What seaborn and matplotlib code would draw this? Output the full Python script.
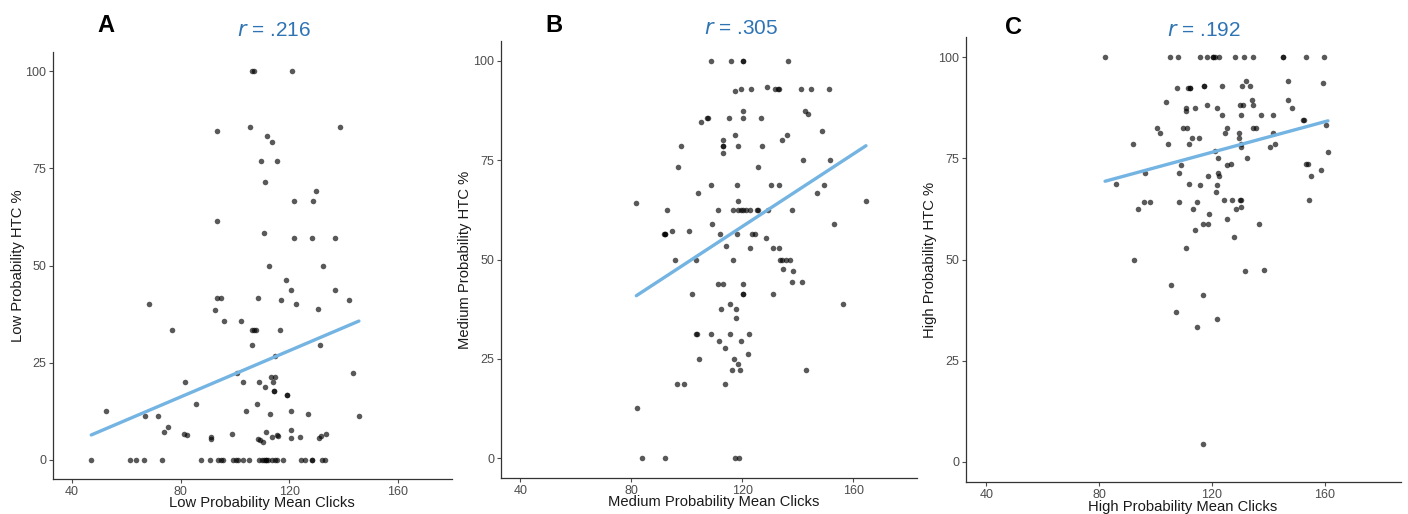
import numpy as np
import pandas as pd
import matplotlib
matplotlib.use("Agg")
import matplotlib.pyplot as plt
import seaborn as sns

# ---------------- data ----------------
low_x = [106.4, 107.1, 121.0,
         105.6, 93.3, 138.6, 111.7, 113.7,
         109.6, 115.5, 111.0, 130.0, 121.8, 128.7,
         93.5, 110.7, 121.8, 128.4, 137.0,
         112.4, 132.4, 118.8, 120.6, 136.9, 142.2,
         93.3, 94.8, 108.5, 116.9, 122.7, 68.5,
         92.8, 130.6, 96.0, 102.4,
         106.3, 107.0, 107.8, 116.6, 76.9,
         106.3, 131.5, 114.9, 100.8, 143.6,
         81.8, 103.1, 109.0, 114.0, 113.2, 114.9,
         111.0, 114.5, 114.5, 119.1, 119.1,
         52.4, 66.8, 71.5, 85.5, 108.0, 104.1, 112.9, 120.7, 127.1, 145.7,
         75.3, 74.0, 81.3, 82.3, 91.3, 91.3, 98.9,
         108.5, 109.3, 110.5, 111.3, 113.6, 115.6, 115.8, 120.7, 120.6, 124.1, 130.9, 131.9, 133.6,
         47.1, 61.5, 63.4, 66.5, 73.3, 87.7, 90.8, 93.9, 94.8, 95.7, 99.3, 100.3, 101.3, 103.1,
         105.2, 108.9, 109.9, 110.7, 111.4, 111.4, 112.3, 113.6, 114.8, 115.7, 117.6, 124.3,
         125.9, 128.3, 128.3, 132.0, 133.2]
low_y = [100, 100, 100,
         85.7, 84.6, 85.7, 83.3, 81.8,
         76.9, 76.9, 71.4, 69.2, 66.7, 66.7,
         61.5, 58.3, 57.1, 57.1, 57.1,
         50, 50, 46.2, 43.8, 43.8, 41.2,
         41.7, 41.7, 41.7, 41.2, 40, 40,
         38.5, 38.9, 35.7, 35.7,
         33.3, 33.3, 33.3, 33.3, 33.3,
         29.4, 29.4, 26.8, 22.3, 22.3,
         20, 20, 20, 20, 21.4, 21.4,
         18.7, 17.7, 17.7, 16.6, 16.6,
         12.5, 11.2, 11.2, 14.2, 14.2, 12.5, 11.8, 12.5, 11.8, 11.2,
         8.3, 7.1, 6.7, 6.3, 5.8, 5.3, 6.7,
         5.3, 5.0, 4.5, 7.1, 5.8, 6.4, 6.1, 7.6, 5.6, 5.8, 5.6, 6.0, 6.7,
         0, 0, 0, 0, 0, 0, 0, 0, 0, 0, 0, 0, 0, 0,
         0, 0, 0, 0, 0, 0, 0, 0, 0, 0, 0, 0,
         0, 0, 0, 0, 0]

med_x = [108.9, 116.1, 120.3, 120.3, 136.4,
         119.5, 123.3, 128.8, 131.7, 132.7, 133.4, 141.1, 144.9, 151.3, 117.2,
         120.3, 142.6, 143.6,
         107.1, 107.8, 115.1, 120.3, 126.9,
         105.1, 148.8, 117.4, 136.3, 134.4, 112.9,
         113.1, 113.1, 118.6, 127.0, 97.9, 113.0,
         97.0, 125.5, 141.8, 151.6,
         108.7, 118.0, 130.5, 133.2, 149.6,
         104.1, 147.1, 81.8, 164.6, 118.4,
         92.8, 111.4, 116.5, 118.5, 119.5, 120.3, 121.2, 122.8, 125.2, 125.6, 129.2, 138.1,
         109.1, 153.1, 94.7, 100.7,
         91.9, 92.3, 92.3, 111.9, 118.2, 123.4, 124.6,
         128.6, 114.3, 122.8, 131.2, 133.3,
         95.7, 103.3, 116.6, 133.6, 134.5, 135.7, 137.2,
         134.7, 138.2, 137.8, 141.4, 111.2, 113.0, 120.3,
         101.8, 120.4, 120.4, 131.0, 156.3, 115.5,
         112.4, 117.6, 117.9,
         103.3, 103.7, 108.7, 115.4, 122.5,
         111.5, 119.6, 113.8, 121.9, 104.5, 117.0, 118.6,
         116.2, 119.2, 142.9, 96.5, 99.1, 113.6,
         82.1, 83.9, 92.3, 117.4, 118.8]
med_y = [100, 100, 100, 100, 100,
         92.9, 92.9, 93.3, 92.9, 92.9, 92.9, 92.9, 92.9, 92.9, 92.4,
         87.5, 87.5, 86.7,
         85.7, 85.7, 85.7, 85.7, 85.7,
         84.6, 82.3, 81.3, 81.3, 80.0, 80.0,
         78.6, 78.6, 78.6, 78.6, 78.6, 76.9,
         73.3, 73.3, 75.0, 75.0,
         68.8, 68.8, 68.8, 68.8, 68.8,
         66.7, 66.7, 64.3, 64.7, 64.7,
         62.5, 62.5, 62.5, 62.5, 62.5, 62.5, 62.5, 62.5, 62.5, 62.5, 62.5, 62.5,
         58.9, 58.9, 57.1, 57.1,
         56.3, 56.3, 56.3, 56.3, 56.3, 56.3, 56.3,
         55.5, 53.4, 52.9, 52.9, 52.9,
         50, 50, 50, 50, 50, 50, 50,
         47.5, 47.1, 44.4, 44.4, 43.8, 43.8, 43.8,
         41.2, 41.2, 41.2, 41.2, 38.9, 38.9,
         37.5, 37.5, 35.3,
         31.3, 31.3, 31.3, 31.3, 31.3,
         29.4, 29.4, 27.8, 26.3, 25.0, 25.0, 23.6,
         22.2, 22.2, 22.2, 18.7, 18.7, 18.7,
         12.5, 0, 0, 0, 0]

high_x = [82.1, 105.0, 108.1, 115.8, 118.3, 120.5, 120.5, 121.0, 122.4, 128.3, 131.4, 134.4, 145.0, 145.0, 153.5, 159.6,
          131.9, 146.9, 159.4, 107.5, 111.4, 112.2, 112.2, 117.3, 117.3, 123.7, 130.6, 133.5,
          103.6, 134.2, 146.9, 118.2, 130.1, 131.1, 134.6,
          110.7, 110.7, 114.1, 121.7, 148.2,
          123.5, 130.3, 137.2, 141.8, 152.2, 152.6,
          100.6, 109.7, 111.3, 125.3, 134.6, 135.6, 160.5,
          101.7, 124.5, 129.4, 141.8,
          113.0, 115.3, 129.4,
          91.9, 104.5, 112.0, 130.4, 130.4, 142.3, 140.4,
          161.1, 121.1, 122.0, 132.4, 108.9, 125.4, 126.7, 153.3, 153.9,
          96.2, 108.2, 122.0, 122.6, 118.7, 155.2, 158.6,
          85.8, 112.0, 115.9, 121.7, 121.5,
          95.9, 98.1, 108.4, 114.6, 124.1, 127.2, 129.9, 130.4, 154.3,
          93.6, 113.3, 128.5, 130.3, 118.9, 125.4,
          116.9, 118.7, 136.8, 113.9, 127.8, 110.7, 92.5,
          131.7, 138.6, 105.3, 116.8, 107.4, 121.7, 114.6, 116.8]
high_y = [100, 100, 100, 100, 100, 100, 100, 100, 100, 100, 100, 100, 100, 100, 100, 100,
          94.1, 94.1, 93.7, 92.3, 92.3, 92.3, 92.3, 92.8, 92.8, 92.8, 92.8, 92.8,
          88.9, 89.5, 89.5, 88.2, 88.2, 88.2, 88.2,
          87.5, 86.6, 87.5, 87.5, 87.5,
          85.7, 85.7, 85.7, 85.7, 84.4, 84.6,
          82.4, 82.4, 82.4, 82.4, 82.4, 82.4, 83.3,
          81.2, 81.2, 81.2, 81.2,
          80.1, 80.1, 80.1,
          78.5, 78.5, 78.5, 78.5, 77.8, 78.5, 77.8,
          76.5, 76.8, 75.0, 75.0, 73.3, 73.3, 73.6, 73.7, 73.7,
          71.4, 71.4, 71.4, 70.6, 70.6, 70.6, 72.2,
          68.7, 68.7, 68.5, 68.5, 66.7,
          64.3, 64.3, 64.3, 64.3, 64.8, 64.8, 64.8, 64.8, 64.8,
          62.6, 62.6, 62.6, 63.1, 61.2, 60.0,
          58.8, 58.8, 58.8, 57.2, 55.6, 52.9, 50.0,
          47.1, 47.4, 43.8, 41.2, 36.9, 35.3, 33.3, 4.4]

panel_letters = ["A", "B", "C"]
r_labels = [".216", ".305", ".192"]
x_labels = ["Low Probability Mean Clicks", "Medium Probability Mean Clicks",
            "High Probability Mean Clicks"]
y_labels = ["Low Probability HTC %", "Medium Probability HTC %", "High Probability HTC %"]
x_ticks = [40, 80, 120, 160]
y_ticks = [0, 25, 50, 75, 100]

# ---------------- style ----------------
sns.set_style("ticks")
plt.rcParams["font.family"] = ["Liberation Sans", "DejaVu Sans"]

W, H = 1408, 514
fig = plt.figure(figsize=(W / 100, H / 100), dpi=100)

# axes boxes in pixels: left, top, right, bottom
boxes = [(53, 52, 452, 479), (501, 41, 917, 478), (966, 37, 1401, 482)]
xlims = [(33, 180), (33, 183), (32.8, 187)]
letter_pos = [(106, 25), (554, 25), (1013, 27)]
r_pos = [(274, 30), (741, 28), (1204, 30)]
xlabel_pos = [(262, 503), (714, 502), (1183, 507)]
ylabel_x = [18, 465, 930]

datasets = [(low_x, low_y), (med_x, med_y), (high_x, high_y)]
line_color = "#74B4E2"
text_blue = "#2E74B5"
grey = "#4D4D4D"

for i, (xs, ys) in enumerate(datasets):
    l, t, r, b = boxes[i]
    w, h = r - l, b - t
    ax = fig.add_axes([l / W, 1 - b / H, w / W, h / H])
    df = pd.DataFrame({"x": xs, "y": ys})
    sns.regplot(data=df, x="x", y="y", ax=ax, ci=None, truncate=True,
                scatter_kws=dict(s=16, color="black", alpha=0.65, linewidths=0),
                line_kws=dict(color=line_color, lw=2.4))
    ax.set_xlim(*xlims[i])
    ax.set_ylim(-5, 105)
    ax.set_xticks(x_ticks)
    ax.set_yticks(y_ticks)
    ax.tick_params(axis="both", labelsize=9, colors=grey, length=3, width=0.8,
                   pad=2)
    for s in ["top", "right"]:
        ax.spines[s].set_visible(False)
    for s in ["left", "bottom"]:
        ax.spines[s].set_color("#333333")
        ax.spines[s].set_linewidth(0.9)
    ax.set_xlabel(x_labels[i], fontsize=10.6, color="#1a1a1a", va="center")
    ax.set_ylabel(y_labels[i], fontsize=10.6, color="#1a1a1a", va="center")
    xlx, xly = xlabel_pos[i]
    ax.xaxis.set_label_coords((xlx - l) / w, -(xly - b) / h)
    ax.yaxis.set_label_coords((ylabel_x[i] - l) / w, 0.5)
    lx, ly = letter_pos[i]
    fig.text(lx / W, 1 - ly / H, panel_letters[i], fontsize=17, fontweight="bold",
             ha="center", va="center", color="black")
    rx, ry = r_pos[i]
    fig.text(rx / W, 1 - ry / H, r"$\it{r}$" + " = " + r_labels[i], fontsize=15,
             ha="center", va="center", color=text_blue)

fig.savefig("out.png", dpi=100)
